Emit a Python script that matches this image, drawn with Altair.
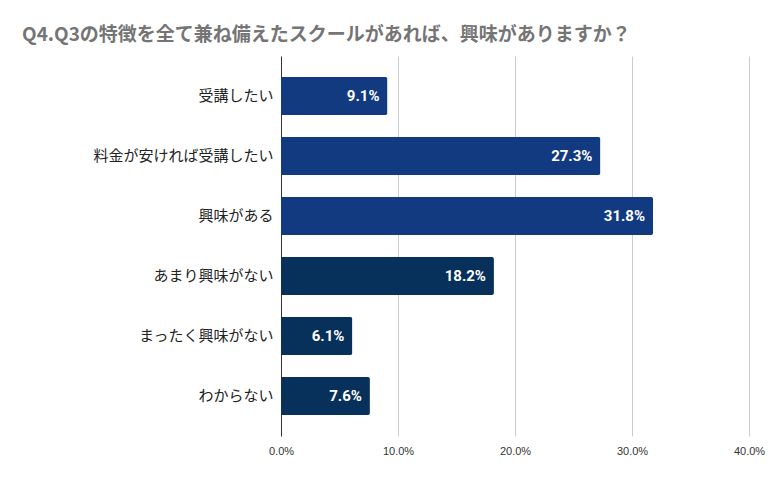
import altair as alt
import pandas as pd

categories = ["受講したい", "料金が安ければ受講したい", "興味がある", "あまり興味がない", "まったく興味がない", "わからない"]
values = [9.1, 27.3, 31.8, 18.2, 6.1, 7.6]
groups = ["pos", "pos", "pos", "neg", "neg", "neg"]
tick_values = [0, 10, 20, 30, 40]

df = pd.DataFrame({"cat": categories, "val": values, "grp": groups})
df["label"] = df["val"].map(lambda v: f"{v:.1f}%")

base = alt.Chart(df).encode(
    y=alt.Y("cat:N", sort=categories, title=None,
            scale=alt.Scale(paddingInner=0.367, paddingOuter=0.35),
            axis=alt.Axis(domain=True, domainColor="#333333", ticks=False, labelPadding=8,
                          labelFont="Noto Sans CJK JP", labelFontSize=15, labelColor="#222222",
                          labelLimit=400, grid=False)),
)

bars = base.mark_bar(cornerRadiusEnd=2).encode(
    x=alt.X("val:Q", title=None,
            scale=alt.Scale(domain=[0, 40], nice=False),
            axis=alt.Axis(values=tick_values, labelExpr="format(datum.value, '.1f') + '%'",
                          domain=False, ticks=False, grid=True, gridColor="#cccccc",
                          labelFont="Liberation Sans", labelFontSize=11, labelColor="#333333",
                          labelFlush=False, labelPadding=9)),
    color=alt.Color("grp:N", scale=alt.Scale(domain=["pos", "neg"], range=["#123A80", "#07305A"]),
                    legend=None),
)

labels = base.mark_text(align="right", dx=-8, color="white", font="Roboto", fontWeight="bold",
                        fontSize=15).encode(
    x=alt.X("val:Q"),
    text="label:N",
)

chart = alt.layer(bars, labels).properties(
    width=468, height=380,
    autosize=alt.AutoSizeParams(type="none"),
    padding={"left": 273, "top": 48, "right": 24, "bottom": 28},
    title=alt.TitleParams("Q4.Q3の特徴を全て兼ね備えたスクールがあれば、興味がありますか？",
                          anchor="start", frame="group", dx=-259, offset=11,
                          font="Noto Sans CJK JP", fontSize=19, fontWeight="bold", color="#757575"),
).configure_view(stroke=None)

chart.save("out.html", embed_options={"renderer": "svg", "actions": False})
